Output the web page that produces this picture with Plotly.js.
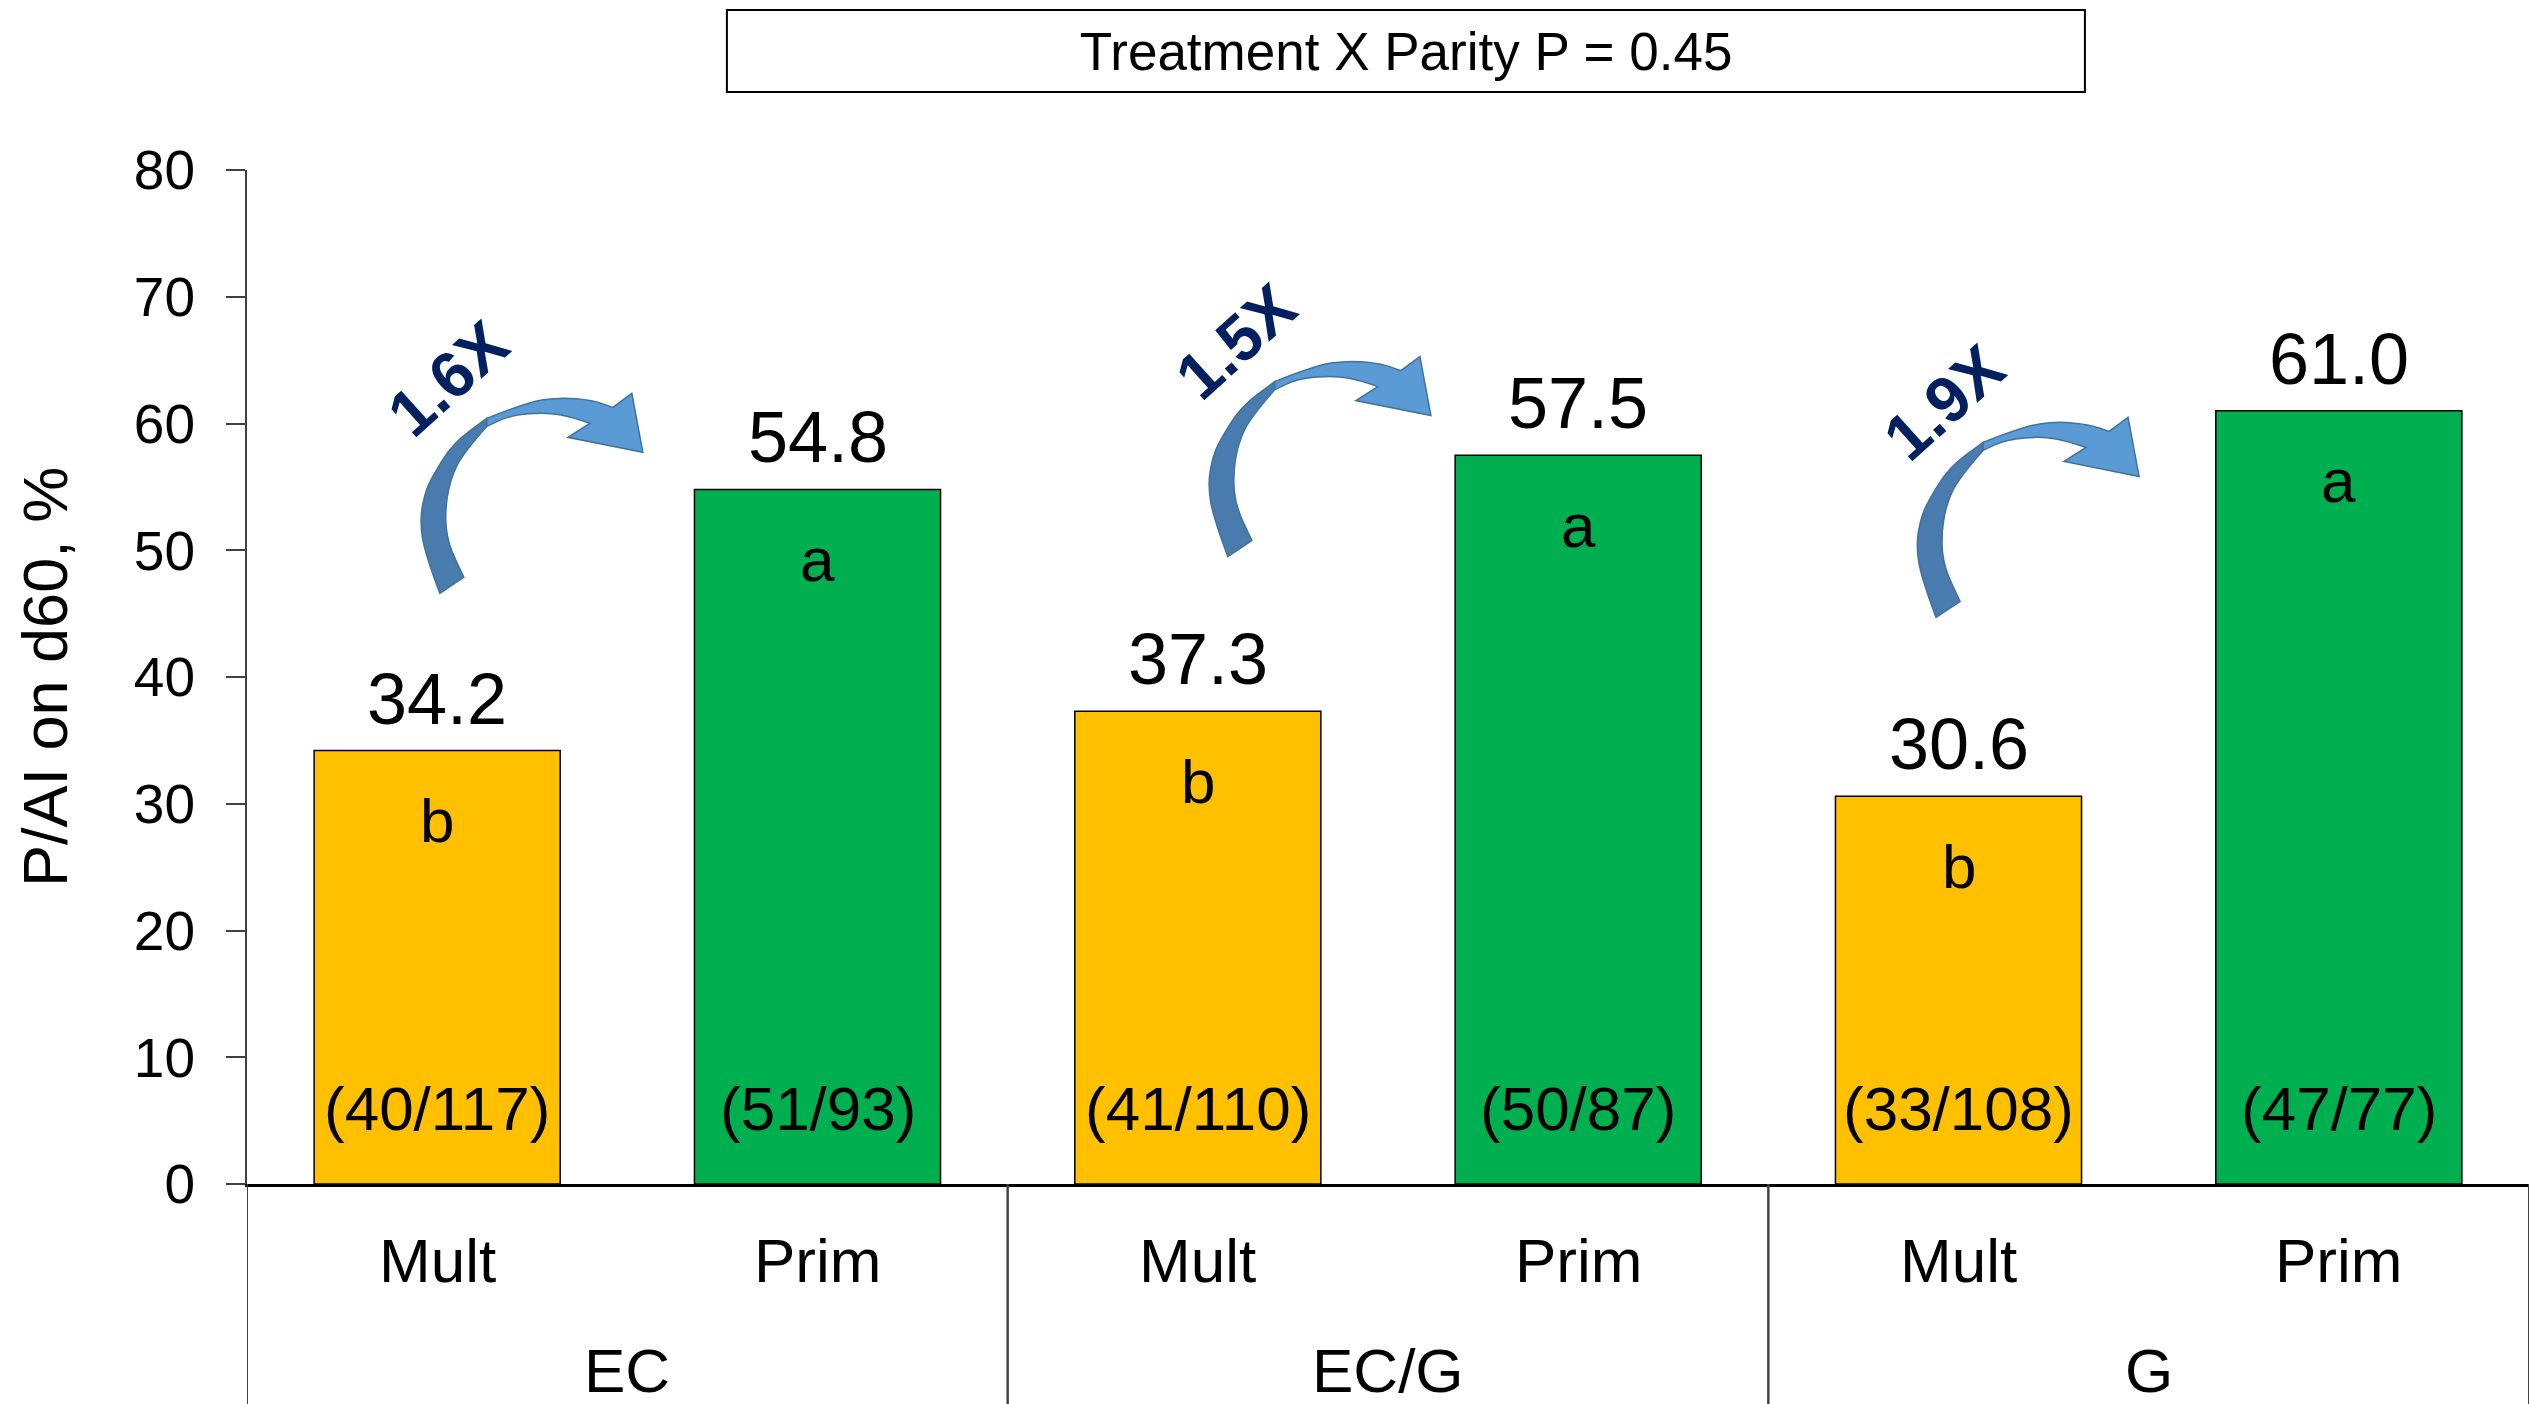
<!DOCTYPE html>
<html><head><meta charset="utf-8">
<script src="https://cdn.plot.ly/plotly-3.0.1.min.js"></script>
<style>html,body{margin:0;padding:0;background:#fff}#chart{width:2534px;height:1404px}</style>
</head><body><div id="chart"></div>
<script>
// ---- data ----
const treatments = ['EC', 'EC', 'EC/G', 'EC/G', 'G', 'G'];
const parity = ['Mult', 'Prim', 'Mult', 'Prim', 'Mult', 'Prim'];
const paiValues = [34.2, 54.8, 37.3, 57.5, 30.6, 61.0];
const sigLetters = ['b', 'a', 'b', 'a', 'b', 'a'];
const counts = ['(40/117)', '(51/93)', '(41/110)', '(50/87)', '(33/108)', '(47/77)'];
const foldLabels = ['1.6X', '1.5X', '1.9X'];
const yTicks = [0, 10, 20, 30, 40, 50, 60, 70, 80];
const titleText = 'Treatment X Parity P = 0.45';
const yTitle = 'P/AI on d60, %';

// ---- styling / placement ----
const FONT = 'Liberation Sans, Arial, sans-serif';
const parityColor = {Mult: '#FFC000', Prim: '#00B050'};
// arrow tail anchor, relative to the "Mult" bar of each group (x in category units, y in data units)
const arrowPlacement = [{dx: 0.007, y: 46.6}, {dx: 0.079, y: 49.5}, {dx: -0.059, y: 44.7}];

function pt(p) { return p[0] + ',' + p[1]; }
function curve(pts) {
  let s = '';
  for (let i = 1; i < pts.length - 1; i++) {
    const m = [(pts[i][0] + pts[i + 1][0]) / 2, (pts[i][1] + pts[i + 1][1]) / 2];
    s += ' Q ' + pt(pts[i]) + ' ' + pt(m);
  }
  s += ' L ' + pt(pts[pts.length - 1]);
  return s;
}
const outerDark = [[0,0],[-15,40],[-20,73],[-15,100],[-8,116],[13,150],[47,175]];
const innerDark = [[47,167],[23,140],[10,113],[5,80],[8,50],[24,16]];
const darkPath = 'M ' + pt(outerDark[0]) + curve(outerDark) + ' L ' + pt(innerDark[0]) + curve(innerDark) + ' Z';
const outerLight = [[47,175],[87,191],[120,196],[153,193],[173,186]];
const innerLight = [[150,170],[133,176],[107,181],[70,178],[47,167]];
const lightPath = 'M ' + pt(outerLight[0]) + curve(outerLight) +
  ' L 192,200 L 203,141 L 128,156 L ' + pt(innerLight[0]) + curve(innerLight) + ' Z';

const traces = [
  {
    type: 'bar',
    x: [treatments, parity],
    y: paiValues,
    marker: {color: parity.map(p => parityColor[p]), line: {color: '#000', width: 1.5}},
    hoverinfo: 'skip',
    showlegend: false
  },
  {type: 'scatter', x: [], y: [], xaxis: 'x2', yaxis: 'y', hoverinfo: 'skip', showlegend: false}
];

const annotations = [];
const shapes = [];
paiValues.forEach((v, i) => {
  annotations.push({xref: 'x2', yref: 'y', x: i, y: v, text: v.toFixed(1), showarrow: false,
    yanchor: 'middle', yshift: 52, font: {family: FONT, size: 72, color: '#000'}});
  annotations.push({xref: 'x2', yref: 'y', x: i, y: v, text: sigLetters[i], showarrow: false,
    yanchor: 'middle', yshift: -70, font: {family: FONT, size: 62, color: '#000'}});
  annotations.push({xref: 'x2', yref: 'y', x: i, y: 0, text: counts[i], showarrow: false,
    yanchor: 'middle', yshift: 76, font: {family: FONT, size: 62, color: '#000'}});
  // inner category label
  annotations.push({xref: 'x2', yref: 'paper', x: i, y: 0, text: parity[i], showarrow: false,
    yanchor: 'middle', yshift: -76, font: {family: FONT, size: 62, color: '#000'}});
});
// group labels + dividers
const groups = [...new Set(treatments)];
groups.forEach((g) => {
  const idx = treatments.map((t, i) => t === g ? i : -1).filter(i => i >= 0);
  const first = Math.min(...idx), last = Math.max(...idx);
  annotations.push({xref: 'x2', yref: 'paper', x: (first + last) / 2, y: 0, text: g, showarrow: false,
    yanchor: 'middle', yshift: -186, font: {family: FONT, size: 62, color: '#000'}});
  [first - 0.5, last + 0.5].forEach(b => {
    shapes.push({type: 'line', xref: 'x2', yref: 'paper', ysizemode: 'pixel', yanchor: 0,
      x0: b, x1: b, y0: 0, y1: -230, line: {color: '#404040', width: 2}});
  });
});
foldLabels.forEach((lab, g) => {
  const ax = 2 * g + arrowPlacement[g].dx;
  const ay = arrowPlacement[g].y;
  shapes.push({type: 'path', xref: 'x2', yref: 'y', xsizemode: 'pixel', ysizemode: 'pixel',
    xanchor: ax, yanchor: ay, path: darkPath, fillcolor: '#4A7BAF', line: {color: '#41719C', width: 1.5}});
  shapes.push({type: 'path', xref: 'x2', yref: 'y', xsizemode: 'pixel', ysizemode: 'pixel',
    xanchor: ax, yanchor: ay, path: lightPath, fillcolor: '#5B9BD5', line: {color: '#41719C', width: 1.5}});
  annotations.push({xref: 'x2', yref: 'y', x: ax, y: ay, xshift: 8, yshift: 215, text: '<b>' + lab + '</b>',
    showarrow: false, textangle: -42, font: {family: FONT, size: 65, color: '#002060'}});
});
// y-axis title
annotations.push({xref: 'paper', yref: 'paper', x: -0.0885, y: 0.5, xanchor: 'center', yanchor: 'middle',
  text: yTitle, textangle: -90, showarrow: false, font: {family: FONT, size: 63, color: '#000'}});
// title box
shapes.push({type: 'rect', xref: 'paper', yref: 'paper', x0: 0.2103, x1: 0.8054, y0: 1.0769, y1: 1.1578,
  line: {color: '#000', width: 2}, fillcolor: 'rgba(0,0,0,0)'});

const layout = {
  width: 2534, height: 1404,
  margin: {l: 247, r: 5, t: 170, b: 220},
  paper_bgcolor: '#fff', plot_bgcolor: '#fff',
  font: {family: FONT, color: '#000'},
  title: {text: titleText, font: {family: FONT, size: 53, color: '#000'}, x: 0.5549, xanchor: 'center',
    y: 0.9637, yanchor: 'middle'},
  bargap: 0.353,
  showlegend: false,
  xaxis: {
    type: 'multicategory', range: [-0.5, 5.5], showgrid: false, zeroline: false,
    showline: true, linecolor: '#000', linewidth: 3,
    showticklabels: false, ticks: '', showdividers: false
  },
  xaxis2: {overlaying: 'x', anchor: 'y', range: [-0.5, 5.5], visible: false, showgrid: false, zeroline: false},
  yaxis: {
    range: [0, 80], tickvals: yTicks, showgrid: false, zeroline: false,
    showline: true, linecolor: '#404040', linewidth: 2,
    ticks: 'outside', ticklen: 19, tickwidth: 2, tickcolor: '#404040',
    ticklabelstandoff: 20,
    tickfont: {family: FONT, size: 55, color: '#000'}
  },
  annotations: annotations,
  shapes: shapes
};

Plotly.newPlot('chart', traces, layout, {staticPlot: true, displayModeBar: false});
</script>
</body></html>
